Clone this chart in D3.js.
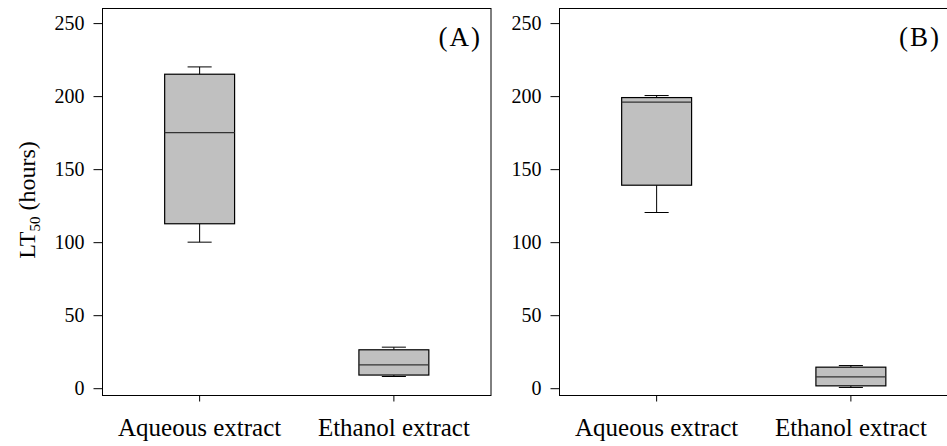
<!DOCTYPE html>
<html>
<head>
<meta charset="utf-8">
<script src="https://cdn.jsdelivr.net/npm/d3@7"></script>
<style>
  body { margin: 0; background: #fff; }
  text { font-family: "Liberation Serif", "Times New Roman", serif; fill: #000; }
</style>
</head>
<body>
<div id="chart"></div>
<script>
// Dữ liệu: hai nhóm chiết xuất, mỗi ô là [min, Q1, trung vị, Q3, max]
const categories = ["Aqueous extract", "Ethanol extract"];
const panelLabels = ["(A)", "(B)"];
const statsA = [
    [100, 112.6, 175, 215, 220],
    [8, 9, 16, 26.3, 28.1]
];
const statsB = [
    [120.3, 139, 195.9, 199, 200.4],
    [0.5, 1.6, 7.8, 14.4, 15.5]
];
const yTicks = [0, 50, 100, 150, 200, 250];

// Kích thước
const fullWidth = 947, fullHeight = 446;
const panelWidth = 388.5, panelHeight = 387;
const panelTop = 8.5;

const svg = d3.select("#chart").append("svg")
    .attr("width", fullWidth)
    .attr("height", fullHeight);

const panels = [
    { label: panelLabels[0], stats: statsA, left: 102.5, labelInset: 9 },
    { label: panelLabels[1], stats: statsB, left: 559.5, labelInset: 7 }
];

// Thang đo dùng chung
const x = d3.scaleBand()
    .domain(categories)
    .range([0, panelWidth])
    .padding(0);

const y = d3.scaleLinear()
    .domain([-5, 260])
    .range([panelHeight, 0]);

const boxW = x.bandwidth() * 0.36;
const capW = x.bandwidth() * 0.124;

panels.forEach(p => {
    const g = svg.append("g")
        .attr("transform", `translate(${p.left},${panelTop})`);

    // Trục Y
    const yAxis = g.append("g")
        .call(d3.axisLeft(y).tickValues(yTicks).tickSize(9).tickPadding(9));
    yAxis.select(".domain").remove();
    yAxis.selectAll("text").style("font-size", "20px");

    // Trục X
    const xAxis = g.append("g")
        .attr("transform", `translate(0,${panelHeight})`)
        .call(d3.axisBottom(x).tickSize(6).tickPadding(17));
    xAxis.select(".domain").remove();
    xAxis.selectAll("text").style("font-size", "25px");

    // Khung
    g.append("rect")
        .attr("width", panelWidth)
        .attr("height", panelHeight)
        .attr("fill", "none")
        .attr("stroke", "#000")
        .attr("stroke-width", 1);

    // Hộp
    const boxes = g.selectAll(".box")
        .data(p.stats.map((s, i) => ({ cat: categories[i], s })))
        .enter().append("g")
        .attr("class", "box")
        .attr("transform", d => `translate(${x(d.cat) + x.bandwidth() / 2},0)`);

    // râu trên và dưới
    boxes.append("line")
        .attr("x1", 0).attr("x2", 0)
        .attr("y1", d => y(d.s[4])).attr("y2", d => y(d.s[3]))
        .attr("stroke", "#000");
    boxes.append("line")
        .attr("x1", 0).attr("x2", 0)
        .attr("y1", d => y(d.s[0])).attr("y2", d => y(d.s[1]))
        .attr("stroke", "#000");
    boxes.append("line")
        .attr("x1", -capW / 2).attr("x2", capW / 2)
        .attr("y1", d => y(d.s[4])).attr("y2", d => y(d.s[4]))
        .attr("stroke", "#000");
    boxes.append("line")
        .attr("x1", -capW / 2).attr("x2", capW / 2)
        .attr("y1", d => y(d.s[0])).attr("y2", d => y(d.s[0]))
        .attr("stroke", "#000");

    boxes.append("rect")
        .attr("x", -boxW / 2)
        .attr("width", boxW)
        .attr("y", d => y(d.s[3]))
        .attr("height", d => y(d.s[1]) - y(d.s[3]))
        .attr("fill", "#c0c0c0")
        .attr("stroke", "#000")
        .attr("stroke-width", 1.2);

    boxes.append("line")
        .attr("x1", -boxW / 2).attr("x2", boxW / 2)
        .attr("y1", d => y(d.s[2])).attr("y2", d => y(d.s[2]))
        .attr("stroke", "#333")
        .attr("stroke-width", 1.2);

    // Nhãn bảng
    g.append("text")
        .attr("x", panelWidth - p.labelInset)
        .attr("y", 37)
        .attr("text-anchor", "end")
        .style("font-size", "27px")
        .style("letter-spacing", "2px")
        .text(p.label);
});

// Nhãn trục Y
const yLabel = svg.append("text")
    .attr("transform", "translate(35,200) rotate(-90)")
    .attr("text-anchor", "middle")
    .style("font-size", "24px");
yLabel.append("tspan").text("LT");
yLabel.append("tspan").attr("dy", 5).style("font-size", "15px").text("50");
yLabel.append("tspan").attr("dy", -5).text(" (hours)");
</script>
</body>
</html>
